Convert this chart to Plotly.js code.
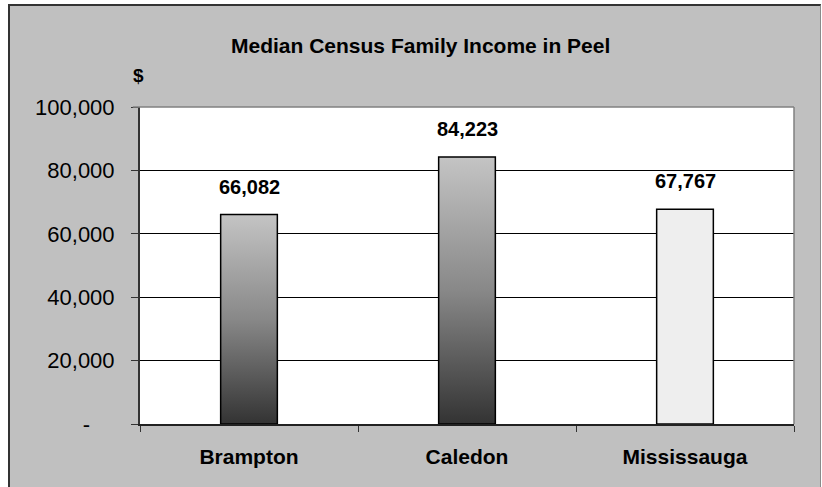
<!DOCTYPE html>
<html>
<head>
<meta charset="utf-8">
<script src="https://cdn.plot.ly/plotly-3.0.1.min.js"></script>
<style>
  html, body { margin: 0; padding: 0; background: #ffffff; width: 822px; height: 487px; overflow: hidden; }
  #frame { position: absolute; left: 8px; top: 4px; width: 810px; height: 483px;
           border-left: 2px solid #333333; border-top: 2px solid #333333; border-right: 1px solid #8a8a8a; }
  #chart { width: 810px; height: 481px; }
</style>
</head>
<body>
<div id="frame"><div id="chart"></div></div>
<script>
const categories = ['Brampton', 'Caledon', 'Mississauga'];
const incomes = [66082, 84223, 67767];
const valueLabels = ['66,082', '84,223', '67,767'];
const yTickValues = [0, 20000, 40000, 60000, 80000, 100000];
const yTickLabels = ['-\u00a0\u00a0\u00a0\u00a0', '20,000', '40,000', '60,000', '80,000', '100,000'];
const chartTitle = 'Median Census Family Income in Peel';
const unitLabel = '$';

const FONT = 'Liberation Sans, Arial, sans-serif';

const trace = {
  type: 'bar',
  x: categories,
  y: incomes,
  width: 0.26,
  marker: {
    color: ['#888888', '#888888', '#eeeeee'],
    line: { color: '#000000', width: 1.5 }
  },
  hoverinfo: 'none'
};

const labelAnnotations = categories.map((c, i) => ({
  x: c, y: incomes[i], xref: 'x', yref: 'y',
  text: '<b>' + valueLabels[i] + '</b>',
  showarrow: false, yanchor: 'bottom', yshift: 15,
  font: { family: FONT, size: 20, color: '#000000' }
}));

const layout = {
  width: 810, height: 481,
  margin: { l: 130, r: 26, t: 101, b: 63 },
  paper_bgcolor: '#c0c0c0',
  plot_bgcolor: '#ffffff',
  showlegend: false,
  title: {
    text: '<b>' + chartTitle + '</b>',
    font: { family: FONT, size: 21, color: '#000000' },
    x: 0.507, xref: 'container', xanchor: 'center',
    y: 0.917, yref: 'container', yanchor: 'middle'
  },
  xaxis: {
    type: 'category',
    tickson: 'boundaries',
    ticks: 'outside', ticklen: 6, tickcolor: '#333333', tickwidth: 1,
    showline: true, linecolor: '#222222', linewidth: 1.5,
    showgrid: false,
    tickfont: { family: FONT, size: 21, color: '#000000', weight: 'bold' },
    ticklabelstandoff: 13,
    fixedrange: true
  },
  yaxis: {
    range: [0, 100000],
    tickvals: yTickValues,
    ticktext: yTickLabels,
    ticks: 'outside', ticklen: 7, tickcolor: '#333333', tickwidth: 1,
    showline: true, linecolor: '#333333', linewidth: 2,
    showgrid: true, gridcolor: '#000000', gridwidth: 1,
    zeroline: false,
    tickfont: { family: FONT, size: 22, color: '#000000' },
    ticklabelstandoff: 12,
    fixedrange: true
  },
  annotations: labelAnnotations.concat([{
    xref: 'paper', yref: 'paper', x: -0.002, y: 1.098,
    text: '<b>' + unitLabel + '</b>', showarrow: false,
    xanchor: 'center', yanchor: 'middle',
    font: { family: FONT, size: 19, color: '#000000' }
  }]),
  shapes: [
    { type: 'line', xref: 'paper', yref: 'paper', x0: -0.011, x1: 1, y0: 1, y1: 1,
      line: { color: '#808080', width: 1.5 }, layer: 'above' },
    { type: 'line', xref: 'paper', yref: 'paper', x0: 1, x1: 1, y0: 0, y1: 1,
      line: { color: '#808080', width: 1.5 }, layer: 'above' }
  ]
};

Plotly.newPlot('chart', [trace], layout, { staticPlot: true, displayModeBar: false }).then(function (gd) {
  const svg = gd.querySelector('svg.main-svg');
  const ns = 'http://www.w3.org/2000/svg';
  let defs = svg.querySelector('defs');
  if (!defs) { defs = document.createElementNS(ns, 'defs'); svg.insertBefore(defs, svg.firstChild); }
  const grad = document.createElementNS(ns, 'linearGradient');
  grad.setAttribute('id', 'barGradient');
  grad.setAttribute('x1', '0'); grad.setAttribute('y1', '0');
  grad.setAttribute('x2', '0'); grad.setAttribute('y2', '1');
  [['0', '#c4c4c4'], ['0.5', '#888888'], ['1', '#333333']].forEach(function (s) {
    const stop = document.createElementNS(ns, 'stop');
    stop.setAttribute('offset', s[0]);
    stop.setAttribute('stop-color', s[1]);
    grad.appendChild(stop);
  });
  defs.appendChild(grad);
  const paths = gd.querySelectorAll('.barlayer .point path');
  for (let i = 0; i < paths.length && i < 2; i++) {
    paths[i].style.fill = 'url(#barGradient)';
  }
});
</script>
</body>
</html>
